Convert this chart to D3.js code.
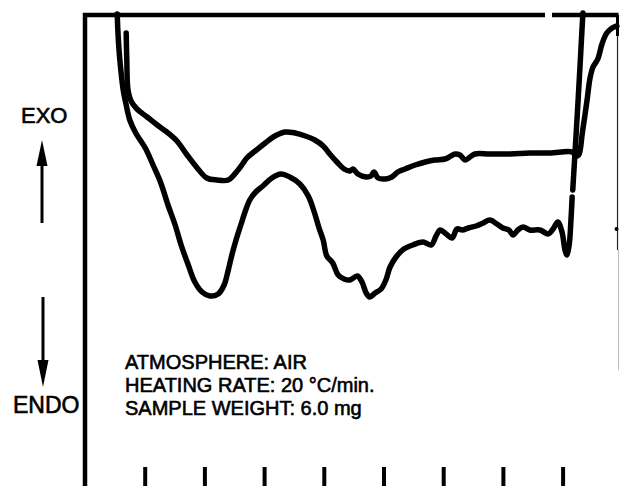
<!DOCTYPE html>
<html lang="en">
<head>
  <meta charset="UTF-8">
  <title>DTA curves</title>
  <script src="https://d3js.org/d3.v7.min.js"></script>
  <style>
    body { margin: 0; background: #fff; }
    svg { display: block; }
    .curve { fill: none; stroke: #000; stroke-width: 5.5px; stroke-linejoin: round; stroke-linecap: round; }
    .frame { stroke: #000; stroke-width: 4.5px; fill: none; }
    text { font-family: "Liberation Sans", Arial, Helvetica, sans-serif; fill: #000; stroke: #000; stroke-width: 0.6px; }
  </style>
</head>
<body>
  <svg id="chart" width="620" height="486"></svg>

  <script>
    // temperature (deg C) ticks along the bottom, no labels in the original
    const tickTemps = [100, 200, 300, 400, 500, 600, 700, 800];

    // upper trace
    const upperT = [69,70,72,77,87,104,121,137,154,171,188,204,221,240,255,265,271,285,302,318,335,352,369,385,399,410,422,434,444,449,457,471,479,484,491,503,514,524,536,553,570,586,603,613,620,628,637,645,653,678,712,745,779,816,822,827,833,841,846,851,859,866,874,883,891];
    const upperS = [90.6,85.2,79.2,77.0,75.4,73.8,72.2,70.8,69.0,66.2,63.6,61.6,61.2,61.2,63.0,64.6,65.6,67.0,68.6,70.0,70.8,70.6,70.0,69.2,68.0,66.4,64.8,63.4,63.0,63.4,62.4,61.8,62.0,62.8,61.6,61.4,61.8,62.8,63.4,64.2,64.8,65.2,65.4,66.0,66.4,66.2,65.2,65.8,66.4,66.4,66.4,66.6,66.6,66.8,66.0,66.2,70.6,77.2,81.6,83.8,85.4,88.4,90.6,91.6,92.0];

    // lower trace (null = pen gap)
    const lowerT = [54,55,57,60,64,69,75,85,101,114,127,139,151,161,173,184,196,209,223,233,240,246,253,261,268,276,286,298,313,328,343,360,374,384,392,399,405,415,424,434,444,456,464,471,477,486,496,504,511,521,534,549,566,580,588,595,605,615,623,632,642,655,667,678,690,700,710,717,725,734,745,762,776,784,792,799,804,807,811,814,816,816,817,826,834];
    const lowerS = [94.4,91.2,87.2,83.2,79.2,76.2,73.2,70.6,67.6,64.2,60.6,56.2,52.2,48.2,44.2,40.8,38.8,38.0,38.4,40.2,43.2,46.2,49.2,52.2,54.8,57.2,58.8,60.0,61.6,62.4,61.8,60.4,58.0,54.8,51.6,49.2,46.0,44.6,42.2,41.4,41.2,42.0,40.8,38.6,37.8,38.6,39.4,41.2,43.8,45.8,47.4,48.2,48.8,48.2,50.0,51.2,50.4,49.6,51.4,51.2,51.6,52.0,52.6,53.2,52.4,51.6,51.2,50.2,51.2,51.8,51.2,51.2,50.4,51.4,52.8,50.8,47.2,46.2,48.2,53.2,57.8,null,59.2,77.2,94.6];

    const notes = ["ATMOSPHERE: AIR", "HEATING RATE: 20 \u00B0C/min.", "SAMPLE WEIGHT: 6.0 mg"];

    const svg = d3.select("#chart");

    const x = d3.scaleLinear().domain([0, 1000]).range([85, 682]);
    const y = d3.scaleLinear().domain([0, 100]).range([486, -14]);

    const frameLeft = x(0), frameRight = x(892), frameTop = y(94.2);

    // frame: left side, top (with a small break) and faint right edge
    svg.append("line").attr("class", "frame")
      .attr("x1", frameLeft).attr("x2", frameLeft).attr("y1", frameTop - 2).attr("y2", 486);
    svg.append("line").attr("class", "frame")
      .attr("x1", frameLeft - 2).attr("x2", 545).attr("y1", frameTop).attr("y2", frameTop);
    svg.append("line").attr("class", "frame")
      .attr("x1", 552).attr("x2", frameRight + 1).attr("y1", frameTop).attr("y2", frameTop);
    svg.append("line")
      .attr("x1", frameRight).attr("x2", frameRight).attr("y1", frameTop).attr("y2", 36)
      .attr("stroke", "#000").attr("stroke-width", 3);
    svg.append("line")
      .attr("x1", frameRight).attr("x2", frameRight).attr("y1", 36).attr("y2", 250)
      .attr("stroke", "#222").attr("stroke-width", 1.2);
    svg.append("line")
      .attr("x1", frameRight + 1).attr("x2", frameRight + 1).attr("y1", 250).attr("y2", 370)
      .attr("stroke", "#bbb").attr("stroke-width", 1);
    svg.append("circle").attr("cx", frameRight - 1).attr("cy", 229).attr("r", 2).attr("fill", "#000");

    // bottom ticks
    const axis = d3.axisTop(x).tickValues(tickTemps).tickSize(19).tickFormat("");
    const gAxis = svg.append("g").attr("transform", "translate(0,486)").call(axis);
    gAxis.select(".domain").remove();
    gAxis.selectAll(".tick line").attr("stroke", "#000").attr("stroke-width", 4);

    // traces
    const line = d3.line()
      .defined(d => d[1] !== null)
      .x(d => x(d[0]))
      .y(d => y(d[1]))
      .curve(d3.curveCatmullRom.alpha(0.5));

    const upper = upperT.map((t, i) => [t, upperS[i]]);
    const lower = lowerT.map((t, i) => [t, lowerS[i]]);

    svg.append("path").attr("class", "curve").attr("d", line(lower));
    svg.append("path").attr("class", "curve").attr("d", line(upper));

    // EXO / ENDO labels with arrows
    svg.append("text").attr("x", 21).attr("y", 123).attr("font-size", 22).text("EXO");
    svg.append("text").attr("x", 13).attr("y", 413).attr("font-size", 23).text("ENDO");

    svg.append("line").attr("x1", 42).attr("x2", 42).attr("y1", 160).attr("y2", 223)
      .attr("stroke", "#000").attr("stroke-width", 3);
    svg.append("path").attr("d", "M42,140 L36.5,166 L47.5,166 Z").attr("fill", "#000");
    svg.append("line").attr("x1", 43).attr("x2", 43).attr("y1", 297).attr("y2", 366)
      .attr("stroke", "#000").attr("stroke-width", 3);
    svg.append("path").attr("d", "M43,387 L37.5,360 L48.5,360 Z").attr("fill", "#000");

    // run conditions
    svg.append("g").selectAll("text")
      .data(notes)
      .enter().append("text")
      .attr("x", 125)
      .attr("y", (d, i) => 369 + i * 23)
      .attr("font-size", 20)
      .text(d => d);
  </script>
</body>
</html>
